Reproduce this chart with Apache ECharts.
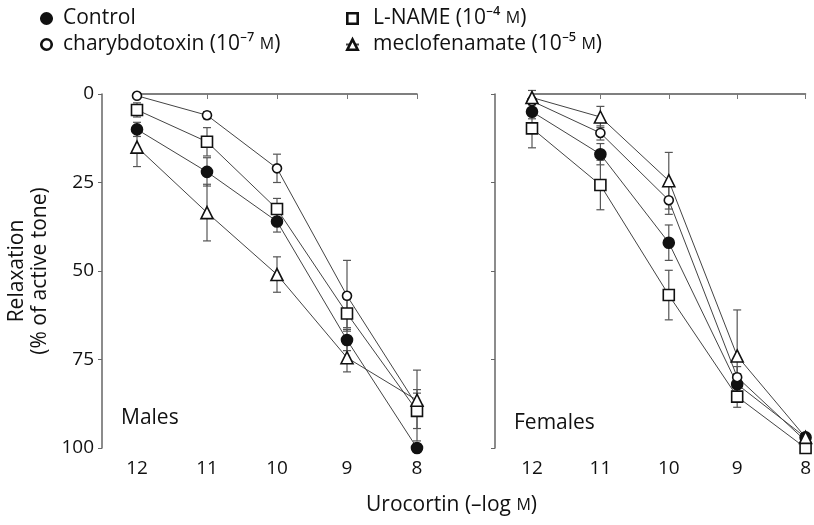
<!DOCTYPE html>
<html>
<head>
<meta charset="utf-8">
<script src="https://cdn.jsdelivr.net/npm/echarts@6/dist/echarts.min.js"></script>
<style>
  html, body { margin: 0; background: #fff; }
  #chart { width: 814px; height: 525px; }
</style>
</head>
<body>
<div id="chart"></div>
<script>
// urocortin dose, -log M
const doses = [12, 11, 10, 9, 8];

// Males, relaxation (% of active tone) and SE
const maleControl = [10, 22, 36, 69.5, 100];
const maleControlSE = [2, 4, 3, 3, 0];
const maleChtx = [0.5, 6, 21, 57, 88];
const maleChtxSE = [0, 1, 4, 10, 10];
const maleLname = [4.5, 13.5, 32.5, 62, 89.5];
const maleLnameSE = [2, 4, 3, 4, 5];
const maleMeclo = [15, 33.5, 51, 74.5, 86.5];
const maleMecloSE = [5.5, 8, 5, 4, 3];

// Females
const femaleControl = [5, 17, 42, 82, 97];
const femaleControlSE = [2, 3, 5, 3, 1];
const femaleChtx = [2, 11, 30, 80, 98];
const femaleChtxSE = [1, 2, 4, 3, 1];
const femaleLname = [9.7, 25.7, 56.8, 85.5, 100];
const femaleLnameSE = [5.5, 7, 7, 3, 1];
const femaleMeclo = [1, 6.5, 24.5, 74, 97];
const femaleMecloSE = [2, 3, 8, 13, 1];

const FONT = "Open Sans";
const names = ["Control", "charybdotoxin (10⁻⁷ M)", "L-NAME (10⁻⁴ M)", "meclofenamate (10⁻⁵ M)"];
const markers = [
  { symbol: "circle", size: 11, fill: "#111" },
  { symbol: "circle", size: 9, fill: "#fff" },
  { symbol: "rect", size: 11, fill: "#fff" },
  { symbol: "triangle", size: 12, fill: "#fff" }
];

const panels = [
  { vals: [maleControl, maleChtx, maleLname, maleMeclo], se: [maleControlSE, maleChtxSE, maleLnameSE, maleMecloSE] },
  { vals: [femaleControl, femaleChtx, femaleLname, femaleMeclo], se: [femaleControlSE, femaleChtxSE, femaleLnameSE, femaleMecloSE] }
];

let series = [];
panels.forEach((p, pi) => {
  p.vals.forEach((vals, si) => {
    // error bars first so the markers sit on top
    series.push({
      type: "custom",
      xAxisIndex: pi,
      yAxisIndex: pi,
      silent: true,
      z: 1,
      encode: { x: 0, y: [1, 2] },
      data: doses.map((d, i) => [d, vals[i] - p.se[si][i], vals[i] + p.se[si][i]]),
      renderItem: (params, api) => {
        let lo = api.coord([api.value(0), api.value(1)]);
        let hi = api.coord([api.value(0), api.value(2)]);
        let w = 4;
        let style = { stroke: "#555", lineWidth: 1.2 };
        return {
          type: "group",
          children: [
            { type: "line", shape: { x1: lo[0], y1: lo[1], x2: hi[0], y2: hi[1] }, style },
            { type: "line", shape: { x1: lo[0] - w, y1: lo[1], x2: lo[0] + w, y2: lo[1] }, style },
            { type: "line", shape: { x1: hi[0] - w, y1: hi[1], x2: hi[0] + w, y2: hi[1] }, style }
          ]
        };
      }
    });
    let m = markers[si];
    series.push({
      name: names[si],
      type: "line",
      xAxisIndex: pi,
      yAxisIndex: pi,
      clip: false,
      z: 3,
      data: doses.map((d, i) => [d, vals[i]]),
      symbol: m.symbol,
      symbolSize: m.size,
      showAllSymbol: true,
      lineStyle: { color: "#444", width: 1 },
      itemStyle: { color: m.fill, borderColor: "#111", borderWidth: 1.6 }
    });
  });
});

const xAxisBase = {
  type: "value",
  min: 8,
  max: 12,
  interval: 1,
  inverse: true,
  splitLine: { show: false },
  axisLine: { lineStyle: { color: "#555", width: 1.5 } },
  axisTick: { length: 5, lineStyle: { color: "#777" } },
  axisLabel: { fontFamily: FONT, fontSize: 19, color: "#111", margin: 11 }
};

const yAxisBase = {
  type: "value",
  min: 0,
  max: 100,
  interval: 25,
  inverse: true,
  splitLine: { show: false },
  axisLine: { show: true, lineStyle: { color: "#666", width: 1.5 } },
  axisTick: { show: true, length: 4, lineStyle: { color: "#666" } },
  axisLabel: { fontFamily: FONT, fontSize: 19, color: "#111", margin: 8 }
};

// small capital M for molar
const smallCaps = { sc: { fontFamily: FONT, fontSize: 16, color: "#111" } };
const legendFmt = (n) => n.replace(" M)", " {sc|M})");

const legendBase = {
  orient: "vertical",
  top: 3,
  itemGap: 5,
  itemWidth: 13,
  itemHeight: 13,
  itemStyle: { borderWidth: 2.6 },
  formatter: legendFmt
};

const chart = echarts.init(document.getElementById("chart"), null, { renderer: "canvas" });
chart.setOption({
  animation: false,
  backgroundColor: "#fff",
  grid: [
    { left: 137, right: 397, top: 94, bottom: 77 },
    { left: 532, right: 4, top: 94, bottom: 77 }
  ],
  xAxis: [
    Object.assign({ gridIndex: 0 }, xAxisBase),
    Object.assign({ gridIndex: 1 }, xAxisBase)
  ],
  yAxis: [
    Object.assign({}, yAxisBase, {
      gridIndex: 0,
      offset: 35,
      name: "Relaxation\n(% of active tone)",
      nameLocation: "middle",
      nameRotate: 90,
      nameGap: 50,
      nameTextStyle: { fontFamily: FONT, fontSize: 21, color: "#111", lineHeight: 23 }
    }),
    Object.assign({}, yAxisBase, {
      gridIndex: 1,
      offset: 37,
      axisLabel: { show: false }
    })
  ],
  legend: [
    Object.assign({}, legendBase, {
      data: [names[0], names[1]],
      left: 34,
      textStyle: { fontFamily: FONT, fontSize: 21, color: "#111", rich: smallCaps, padding: [0, 0, 0, 5] }
    }),
    Object.assign({}, legendBase, {
      data: [names[2], names[3]],
      left: 340,
      textStyle: { fontFamily: FONT, fontSize: 21, color: "#111", rich: smallCaps, padding: [0, 0, 0, 9] }
    })
  ],
  graphic: [
    { type: "text", left: 121, top: 408, style: { text: "Males", font: "21px 'Open Sans'", fill: "#111" } },
    { type: "text", left: 514, top: 413, style: { text: "Females", font: "21px 'Open Sans'", fill: "#111" } },
    {
      type: "text", left: 366, top: 495,
      style: {
        text: "Urocortin (–log {sc|M})",
        font: "21px 'Open Sans'",
        fill: "#111",
        rich: { sc: { fontFamily: FONT, fontSize: 16, fill: "#111" } }
      }
    }
  ],
  series: series
});
</script>
</body>
</html>
